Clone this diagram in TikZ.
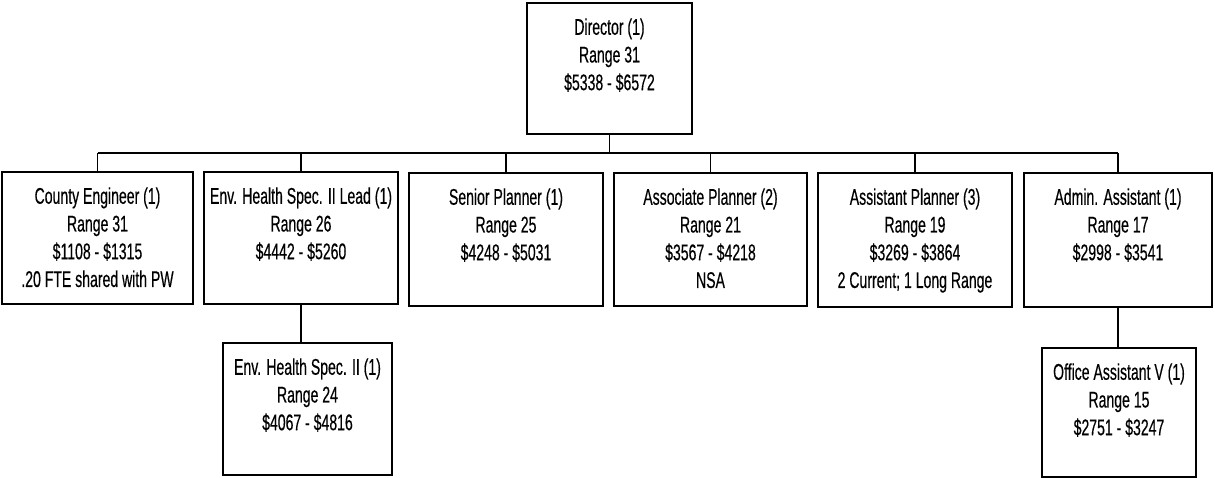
\documentclass[tikz,border=0pt]{standalone}
\usepackage{fontspec}
\setmainfont{Liberation Sans}[FakeStretch=0.62,FakeBold=0.4]
\begin{document}
\begin{tikzpicture}[x=0.75pt,y=-0.75pt,
  box/.style n args={2}{draw, line width=1.4pt, inner sep=0pt, minimum width=#1*0.75pt, minimum height=#2*0.75pt},
  txt/.style={anchor=north, align=center, inner sep=0pt, font=\fontsize{17}{20.8}\selectfont},
  conn/.style={line width=1.1pt}]
\useasboundingbox (0,0) rectangle (1215,478);
% boxes
\node[box={165}{131}] (dir) at (609.5,68.5) {};
\node[box={191}{132}] (county) at (97.5,238) {};
\node[box={194}{132}] (envlead) at (301,238) {};
\node[box={194}{133}] (senior) at (506,239.5) {};
\node[box={193}{133}] (assoc) at (710.5,239.5) {};
\node[box={194}{134}] (asstpl) at (915,240) {};
\node[box={188}{134}] (admin) at (1118,240) {};
\node[box={169}{132}] (envii) at (307.5,409) {};
\node[box={154}{129}] (office) at (1119,412.5) {};
% texts
\node[txt] (dirT) at ([yshift=-12pt]dir.north) {Director (1)\\Range 31\\\$5338 - \$6572};
\node[txt] (countyT) at ([yshift=-12pt]county.north) {County Engineer (1)\\Range 31\\\$1108 - \$1315\\.20 FTE shared with PW};
\node[txt] (envleadT) at ([yshift=-12pt]envlead.north) {Env. Health Spec. II Lead (1)\\Range 26\\\$4442 - \$5260};
\node[txt] (seniorT) at ([yshift=-12pt]senior.north) {Senior Planner (1)\\Range 25\\\$4248 - \$5031};
\node[txt] (assocT) at ([yshift=-12pt]assoc.north) {Associate Planner (2)\\Range 21\\\$3567 - \$4218\\NSA};
\node[txt] (asstplT) at ([yshift=-12pt]asstpl.north) {Assistant Planner (3)\\Range 19\\\$3269 - \$3864\\2 Current; 1 Long Range};
\node[txt] (adminT) at ([yshift=-12pt]admin.north) {Admin. Assistant (1)\\Range 17\\\$2998 - \$3541};
\node[txt] (eniiT) at ([yshift=-12pt]envii.north) {Env. Health Spec. II (1)\\Range 24\\\$4067 - \$4816};
\node[txt] (officeT) at ([yshift=-12pt]office.north) {Office Assistant V (1)\\Range 15\\\$2751 - \$3247};
% connectors
\coordinate (bus) at (0,153);
\draw[conn] (dir.south) -- (dir.south |- bus);
\draw[conn] (county.north |- bus) -- (admin.north |- bus);
\foreach \b in {county,envlead,senior,assoc,asstpl,admin}
  \draw[conn] (\b.north) -- (\b.north |- bus);
\draw[conn] (envlead.south) -- (envlead.south |- envii.north);
\draw[conn] (admin.south) -- (admin.south |- office.north);
\end{tikzpicture}
\end{document}
